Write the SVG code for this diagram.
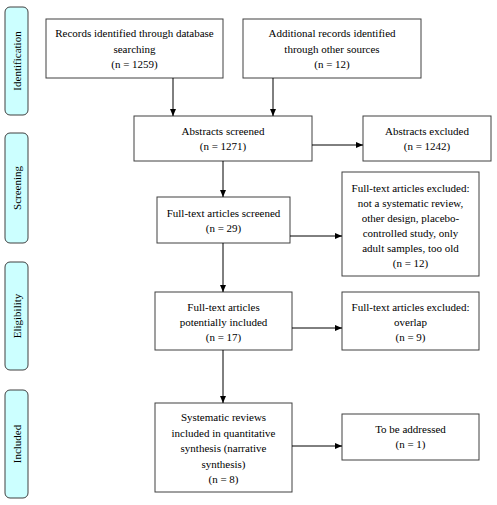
<svg xmlns="http://www.w3.org/2000/svg" width="497" height="505" viewBox="0 0 497 505">
<style>
.box{fill:#ffffff;stroke:#404040;stroke-width:1}
.side{fill:#ccffff;stroke:#404040;stroke-width:1}
text{font-family:'Liberation Serif','Times New Roman','DejaVu Serif',serif;font-size:11px;fill:#000;text-anchor:middle}
.con{stroke:#000;stroke-width:1;fill:none;marker-end:url(#ah)}
</style>
<defs>
<marker id="ah" markerWidth="7" markerHeight="6" refX="7" refY="3" orient="auto" markerUnits="userSpaceOnUse">
<path d="M0,0 L7,3 L0,6 Z" fill="#000"/>
</marker>
</defs>
<rect width="497" height="505" fill="#ffffff"/>
<g font-family="Liberation Serif, Times New Roman, serif">
<g id="side-identification"><rect class="side" x="5" y="7" width="23" height="108" rx="5"/><text transform="translate(20.5,61) rotate(-90)">Identification</text></g>
<g id="side-screening"><rect class="side" x="5" y="133" width="23" height="110" rx="5"/><text transform="translate(20.5,188) rotate(-90)">Screening</text></g>
<g id="side-eligibility"><rect class="side" x="5" y="262" width="23" height="108" rx="5"/><text transform="translate(20.5,316) rotate(-90)">Eligibility</text></g>
<g id="side-included"><rect class="side" x="5" y="390" width="23" height="108" rx="5"/><text transform="translate(20.5,444) rotate(-90)">Included</text></g>

<g id="n-records"><rect class="box" x="46" y="19" width="177" height="59"/><text x="134.5" y="37">Records identified through database</text><text x="134.5" y="52.5">searching</text><text x="134.5" y="68">(n = 1259)</text></g>
<g id="n-additional"><rect class="box" x="243" y="19" width="178" height="59"/><text x="332" y="37">Additional records identified</text><text x="332" y="52.5">through other sources</text><text x="332" y="68">(n = 12)</text></g>
<g id="n-abstracts"><rect class="box" x="134" y="116" width="178" height="45"/><text x="223" y="135">Abstracts screened</text><text x="223" y="150">(n = 1271)</text></g>
<g id="n-abs-excl"><rect class="box" x="363" y="116" width="128" height="45"/><text x="427" y="135">Abstracts excluded</text><text x="427" y="150">(n = 1242)</text></g>
<g id="n-ft-screened"><rect class="box" x="157" y="197" width="133" height="46"/><text x="223.5" y="216.5">Full-text articles screened</text><text x="223.5" y="231.5">(n = 29)</text></g>
<g id="n-ft-excl"><rect class="box" x="342" y="172" width="137" height="104"/><text x="410.5" y="192">Full-text articles excluded:</text><text x="410.5" y="207">not a systematic review,</text><text x="410.5" y="222">other design, placebo-</text><text x="410.5" y="237">controlled study, only</text><text x="410.5" y="252">adult samples, too old</text><text x="410.5" y="267">(n = 12)</text></g>
<g id="n-potential"><rect class="box" x="155" y="292" width="137" height="58"/><text x="223.5" y="311">Full-text articles</text><text x="223.5" y="326">potentially included</text><text x="223.5" y="341">(n = 17)</text></g>
<g id="n-overlap"><rect class="box" x="342" y="292" width="137" height="58"/><text x="410.5" y="311">Full-text articles excluded:</text><text x="410.5" y="326">overlap</text><text x="410.5" y="341">(n = 9)</text></g>
<g id="n-systematic"><rect class="box" x="155" y="403" width="137" height="89"/><text x="223.5" y="421">Systematic reviews</text><text x="223.5" y="436.5">included in quantitative</text><text x="223.5" y="452">synthesis (narrative</text><text x="223.5" y="467.5">synthesis)</text><text x="223.5" y="483">(n = 8)</text></g>
<g id="n-tobe"><rect class="box" x="342" y="414" width="137" height="46"/><text x="410.5" y="433">To be addressed</text><text x="410.5" y="448">(n = 1)</text></g>
</g>
<g id="connectors">
<line class="con" x1="173" y1="78" x2="173" y2="116"/>
<line class="con" x1="273" y1="78" x2="273" y2="116"/>
<line class="con" x1="312" y1="145" x2="363" y2="145"/>
<line class="con" x1="223" y1="161" x2="223" y2="197"/>
<line class="con" x1="290" y1="236" x2="342" y2="236"/>
<line class="con" x1="223" y1="243" x2="223" y2="292"/>
<line class="con" x1="292" y1="328" x2="342" y2="328"/>
<line class="con" x1="223" y1="350" x2="223" y2="403"/>
<line class="con" x1="292" y1="446" x2="342" y2="446"/>
</g>
</svg>
